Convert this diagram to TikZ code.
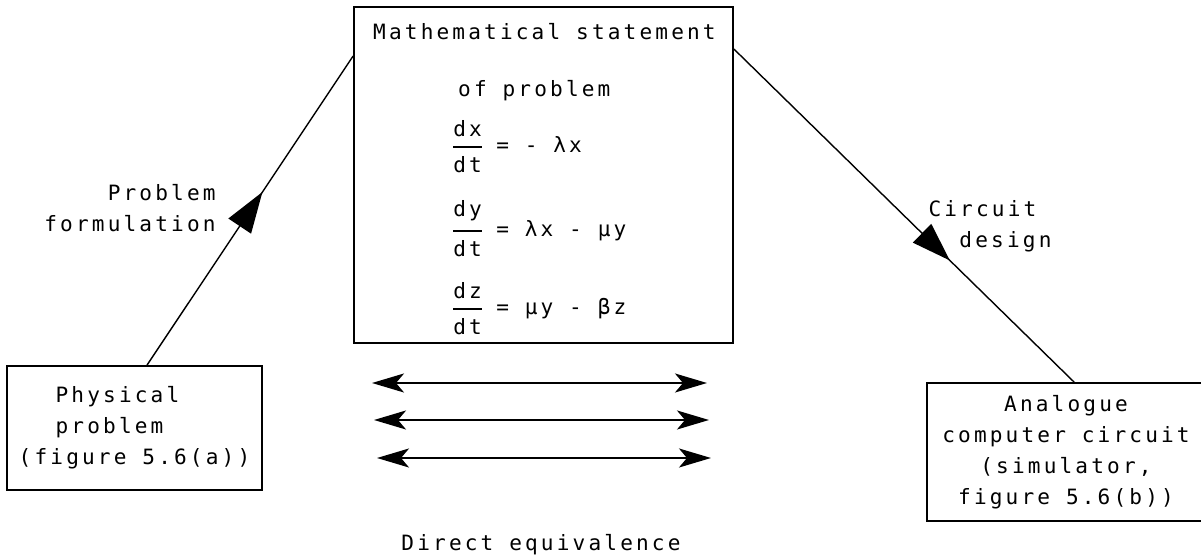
\documentclass[tikz,border=0pt]{standalone}
\usepackage{amsmath}
\usepackage{fontspec}
\usetikzlibrary{arrows.meta, decorations.markings, calc}
\newfontfamily\lprint{DejaVu Sans Mono}[LetterSpace=15]

\begin{document}
\begin{tikzpicture}[x=0.02cm, y=-0.02cm,
    every node/.style={font=\lprint\fontsize{12}{17.6}\selectfont},
    block/.style={draw, line width=1.1pt, inner sep=0pt},
    flow/.style={line width=0.8pt, postaction={decorate}},
    equiv/.style={line width=1.1pt, {Stealth[length=0.64cm, width=0.38cm, inset=0.16cm]}-{Stealth[length=0.64cm, width=0.38cm, inset=0.16cm]}}]
    \useasboundingbox (0,0) rectangle (1201,560);

    % Boxes
    \node[block, minimum width=7.58cm, minimum height=6.72cm] (stmt) at (543.5,175) {};
    \node[block, minimum width=5.1cm, minimum height=2.48cm, align=left] (phys) at (134.5,428)
        {\hspace{21pt}Physical\\\hspace{21pt}problem\\(figure 5.6(a))};
    \node[block, minimum width=5.56cm, minimum height=2.76cm, align=center] (ana) at (1066,452)
        {Analogue\\computer circuit\\(simulator,\\figure 5.6(b))};

    % Statement of problem
    \node[anchor=base west] (title) at (367,40) {Mathematical statement};
    \node[anchor=base west] (sub) at (452,97) {of problem};
    \node[anchor=west] (eqx) at (445,147) {$\genfrac{}{}{1.6pt}{0}{\hbox{dx}}{\hbox{dt}}$\hspace{7pt}= - λx};
    \node[anchor=west] (eqy) at (445,229) {$\genfrac{}{}{1.6pt}{0}{\hbox{dy}}{\hbox{dt}}$\hspace{7pt}= λx - μy};
    \node[anchor=west] (eqz) at (445,309) {$\genfrac{}{}{1.6pt}{0}{\hbox{dz}}{\hbox{dt}}$\hspace{7pt}= μy - βz};

    % Flow lines
    \draw[flow, decoration={markings, mark=at position 0.56 with {\arrow{Triangle[length=0.82cm, width=0.54cm]}}}]
        ($(phys.north west)+(141,0)$) -- ($(stmt.north west)+(0,50)$);
    \draw[flow, decoration={markings, mark=at position 0.635 with {\arrow{Triangle[length=0.78cm, width=0.52cm]}}}]
        ($(stmt.north east)+(0,43)$) -- ($(ana.north west)+(148,0)$);
    \node[align=right] (form) at (130,208) {Problem\hspace{7pt}\\formulation};
    \node[align=left] (circ) at (990,226) {Circuit\\\hspace{17.6pt}design};

    % Direct equivalence
    \coordinate (a1) at (372,383);
    \coordinate (b1) at (707,383);
    \coordinate (a2) at (374,420);
    \coordinate (b2) at (709,420);
    \coordinate (a3) at (377,458);
    \coordinate (b3) at (711,458);
    \draw[equiv] (a1) -- (b1);
    \draw[equiv] (a2) -- (b2);
    \draw[equiv] (a3) -- (b3);
    \node (deq) at (541,545) {Direct equivalence};

\end{tikzpicture}
\end{document}
